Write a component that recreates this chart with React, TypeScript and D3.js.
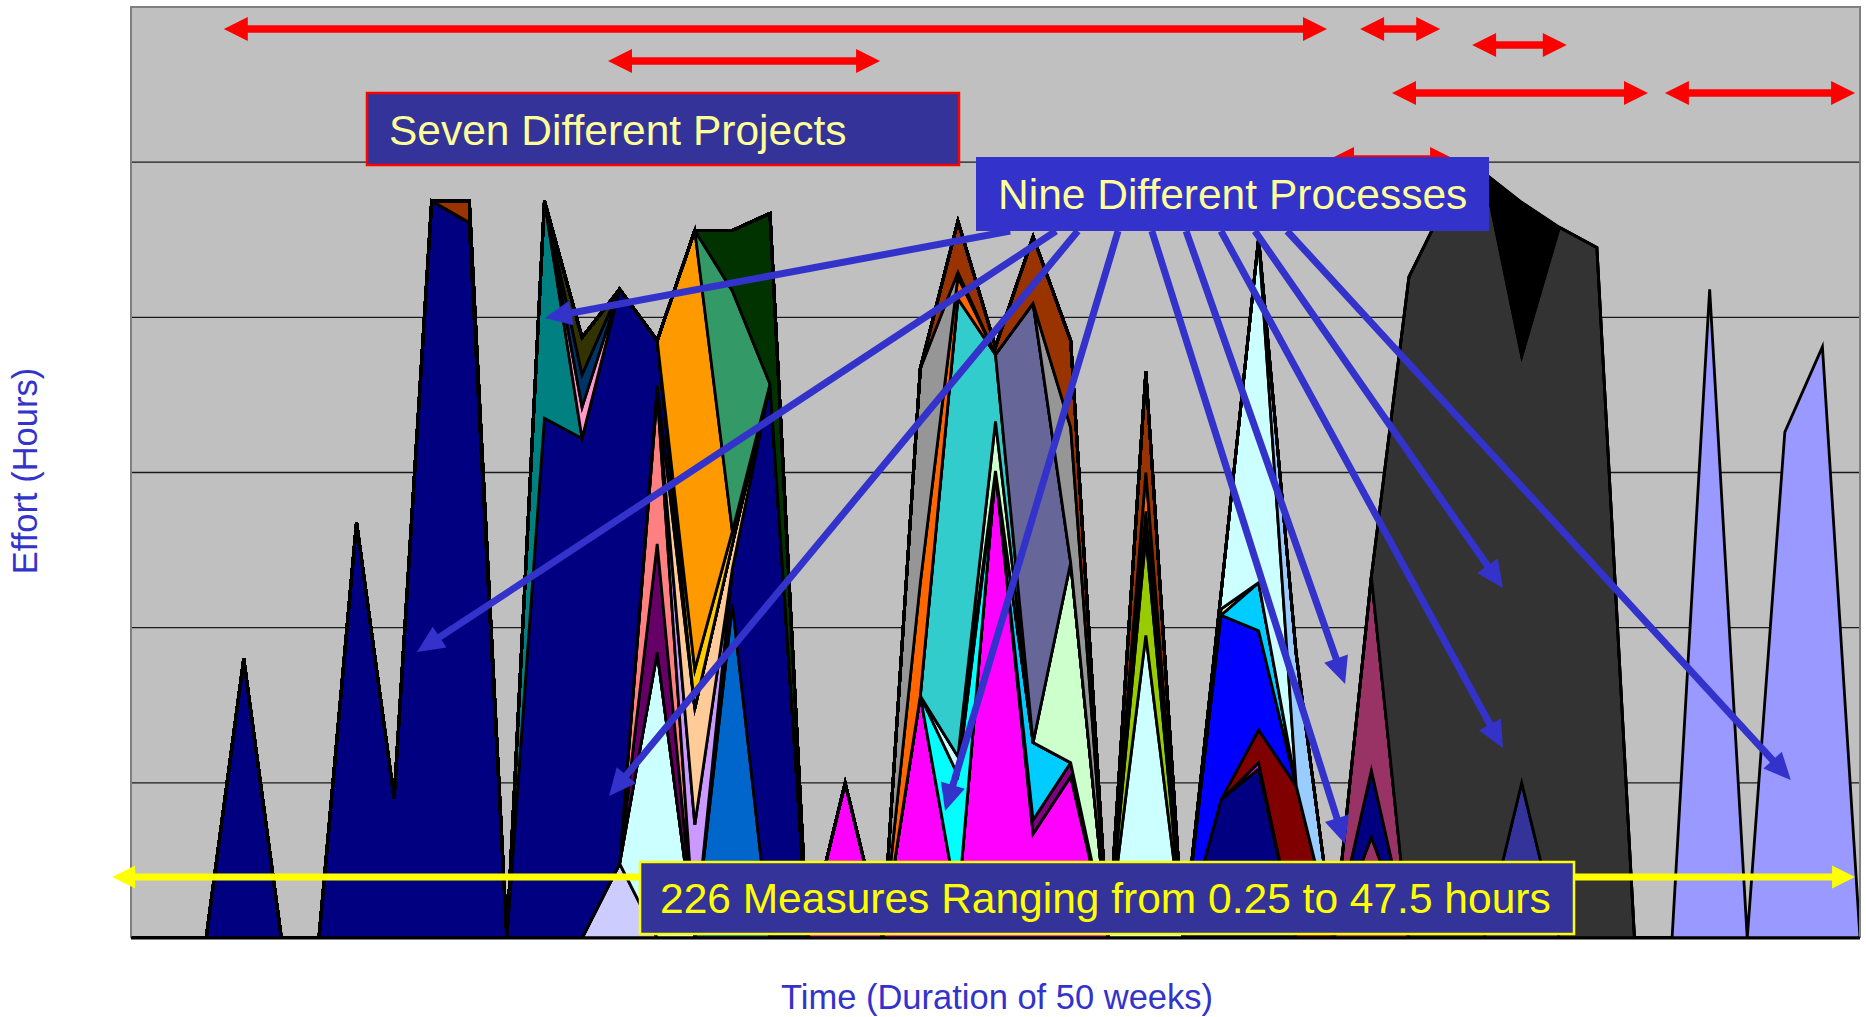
import React from "react";
import * as d3 from "d3";

// ---- Chart frame ----
const WIDTH = 1866;
const HEIGHT = 1017;
const PLOT = { left: 131, right: 1860, top: 7, bottom: 938 };
const WEEK_COUNT = 47;
const HOURS_MAX = 60;
const GRID_HOURS = [10, 20, 30, 40, 50];

// ---- Weekly effort (hours) per project/process series ----
// Each array starts at the week index given in the series table below.

// Project 1
const p1Lavender = [0, 4.8, 0];
const p1LightCyan = [0, 18.4, 0];
const p1Blue = [0, 21.5, 0];
const p1NavyLate = [0, 2.3, 35.7, 0];
const p1Plum = [0, 7.0, 0];
const p1Salmon = [0, 9.7, 0];
const p1Lilac = [0, 7.3, 0];
const p1Peach = [0, 0.5, 7.5, 1.6, 0];
const p1Navy = [0, 18.0, 0, 0, 26.8, 9.0, 47.5, 46.1, 0, 33.5, 32.2, 37.0, 2.9, 0];
const p1Teal = [0, 14.0, 0];
const p1Pink = [0, 2.0, 0];
const p1Ink = [0, 2.1, 0];
const p1Olive = [0, 2.4, 0];
const p1Gold = [0, 2.5, 0.8, 0];
const p1Orange = [0, 28.3, 0];
const p1SeaGreen = [0, 15.5, 0];
const p1Forest = [0, 3.9, 11.0, 0];
const p1Rust = [0, 1.4, 0];

// Project 2
const p2Magenta = [0, 10.0, 0, 15.6, 2.0, 30.1, 6.7, 10.4, 0];
const p2Purple = [0, 0.9, 0.9, 0];
const p2Sky = [0, 5.0, 0];
const p2Cyan = [0, 8.5, 0];
const p2Ice = [0, 1.2, 0];
const p2Mint = [0, 3.2, 0, 12.9, 0];
const p2Turquoise = [0, 29.5, 4.3, 0];
const p2Slate = [0, 28.3, 0];
const p2Orange = [0, 7.3, 1.4, 0];
const p2Gray = [0, 13.8, 0.3, 0, 0, 8.7, 0];
const p2Rust = [0, 3.3, 0.5, 4.3, 5.6, 0];

// Project 3
const p3Ice = [0, 19.5, 0];
const p3Lime = [0, 6.4, 0];
const p3Black = [0, 1.6, 0];
const p3Orange = [0, 2.5, 0];
const p3Rust = [0, 6.5, 0];

// Project 4
const p4Navy = [0, 8.9, 10.9, 0];
const p4Magenta = [0, 0.4, 0];
const p4Maroon = [0, 2.1, 9.8, 0];
const p4Blue = [0, 11.9, 6.4, 0];
const p4Sky = [0, 3.1, 0];
const p4Cream = [0, 0.4, 0];
const p4Ice = [0, 1.0, 22.2, 0];
const p4Powder = [0, 8.5, 0];

// Project 5
const p5WineLow = [0, 6.5, 0];
const p5Navy = [0, 4.3, 0];
const p5WineHigh = [0, 12.5, 0];

// Project 6
const p6Indigo = [0, 10.0, 0];
const p6Charcoal = [0, 42.6, 47.5, 49.3, 27.5, 45.8, 44.5, 0];
const p6Black = [0, 9.9, 0];

// Project 7
const p7Periwinkle = [0, 41.8, 0, 32.6, 38.1, 0];

// Stack order: bottom to top
const SERIES = [
  { key: "p1Lavender", color: "#CCCCFF", start: 12, values: p1Lavender },
  { key: "p1LightCyan", color: "#CCFFFF", start: 13, values: p1LightCyan },
  { key: "p1Blue", color: "#0066CC", start: 15, values: p1Blue },
  { key: "p1NavyLate", color: "#000080", start: 15, values: p1NavyLate },
  { key: "p1Plum", color: "#660066", start: 13, values: p1Plum },
  { key: "p1Salmon", color: "#FF8080", start: 13, values: p1Salmon },
  { key: "p1Lilac", color: "#CC99FF", start: 14, values: p1Lilac },
  { key: "p1Peach", color: "#FFCC99", start: 13, values: p1Peach },
  { key: "p1Navy", color: "#000080", start: 2, values: p1Navy },
  { key: "p1Teal", color: "#008080", start: 10, values: p1Teal },
  { key: "p1Pink", color: "#FF99CC", start: 11, values: p1Pink },
  { key: "p1Ink", color: "#003366", start: 11, values: p1Ink },
  { key: "p1Olive", color: "#333300", start: 11, values: p1Olive },
  { key: "p1Gold", color: "#FFCC00", start: 14, values: p1Gold },
  { key: "p1Orange", color: "#FF9900", start: 14, values: p1Orange },
  { key: "p1SeaGreen", color: "#339966", start: 15, values: p1SeaGreen },
  { key: "p1Forest", color: "#003300", start: 15, values: p1Forest },
  { key: "p1Rust", color: "#993300", start: 8, values: p1Rust },

  { key: "p2Magenta", color: "#FF00FF", start: 18, values: p2Magenta },
  { key: "p2Purple", color: "#800080", start: 23, values: p2Purple },
  { key: "p2Sky", color: "#00CCFF", start: 23, values: p2Sky },
  { key: "p2Cyan", color: "#00FFFF", start: 21, values: p2Cyan },
  { key: "p2Ice", color: "#CCFFFF", start: 21, values: p2Ice },
  { key: "p2Mint", color: "#CCFFCC", start: 22, values: p2Mint },
  { key: "p2Turquoise", color: "#33CCCC", start: 21, values: p2Turquoise },
  { key: "p2Slate", color: "#666699", start: 23, values: p2Slate },
  { key: "p2Orange", color: "#FF6600", start: 20, values: p2Orange },
  { key: "p2Gray", color: "#969696", start: 20, values: p2Gray },
  { key: "p2Rust", color: "#993300", start: 21, values: p2Rust },

  { key: "p3Ice", color: "#CCFFFF", start: 26, values: p3Ice },
  { key: "p3Lime", color: "#99CC00", start: 26, values: p3Lime },
  { key: "p3Black", color: "#000000", start: 26, values: p3Black },
  { key: "p3Orange", color: "#FF6600", start: 26, values: p3Orange },
  { key: "p3Rust", color: "#993300", start: 26, values: p3Rust },

  { key: "p4Navy", color: "#000080", start: 28, values: p4Navy },
  { key: "p4Magenta", color: "#FF00FF", start: 29, values: p4Magenta },
  { key: "p4Maroon", color: "#800000", start: 29, values: p4Maroon },
  { key: "p4Blue", color: "#0000FF", start: 28, values: p4Blue },
  { key: "p4Sky", color: "#00CCFF", start: 29, values: p4Sky },
  { key: "p4Cream", color: "#FFFF99", start: 28, values: p4Cream },
  { key: "p4Ice", color: "#CCFFFF", start: 28, values: p4Ice },
  { key: "p4Powder", color: "#99CCFF", start: 30, values: p4Powder },

  { key: "p5WineLow", color: "#993366", start: 32, values: p5WineLow },
  { key: "p5Navy", color: "#000080", start: 32, values: p5Navy },
  { key: "p5WineHigh", color: "#993366", start: 32, values: p5WineHigh },

  { key: "p6Indigo", color: "#333399", start: 36, values: p6Indigo },
  { key: "p6Charcoal", color: "#333333", start: 33, values: p6Charcoal },
  { key: "p6Black", color: "#000000", start: 36, values: p6Black },

  { key: "p7Periwinkle", color: "#9999FF", start: 41, values: p7Periwinkle },
];

// ---- Annotations, in chart units (week index, hours) ----
// Project spans: [fromWeek, toWeek, hoursLevel]
const PROJECT_SPANS = [
  [2.47, 31.82, 58.58],
  [12.69, 19.93, 56.52],
  [32.7, 34.83, 58.58],
  [35.68, 38.2, 57.55],
  [33.55, 40.36, 54.46],
  [40.81, 45.87, 54.46],
];
const HIDDEN_SPAN = [31.9, 35.2, 50.2];
// Range of all measures: [fromWeek, toWeek, hoursLevel]
const MEASURE_SPAN = [-0.5, 45.87, 3.93];
// Process pointers: [fromWeek, fromHours, toWeek, toHours]
const PROCESS_POINTERS = [
  [23.39, 45.56, 11.01, 39.96],
  [24.61, 45.56, 7.61, 18.43],
  [25.19, 45.56, 12.72, 9.15],
  [26.26, 45.56, 21.66, 8.18],
  [28.07, 45.56, 32.3, 16.37],
  [27.16, 45.56, 32.3, 6.06],
  [29.9, 45.56, 36.5, 22.56],
  [29.0, 45.56, 36.5, 12.24],
  [30.76, 45.56, 44.16, 10.18],
];

const FONT = "'Liberation Sans', Arial, Helvetica, sans-serif";

function arrowPolygon(
  x1: number, y1: number, x2: number, y2: number,
  w: number, L: number, h: number, double: boolean
): string {
  const dx = x2 - x1, dy = y2 - y1;
  const len = Math.hypot(dx, dy);
  const ux = dx / len, uy = dy / len;
  const nx = -uy, ny = ux;
  const p = (x: number, y: number) => `${x.toFixed(1)},${y.toFixed(1)}`;
  const bx = x2 - ux * L, by = y2 - uy * L;
  const pts: string[] = [];
  if (double) {
    const ax = x1 + ux * L, ay = y1 + uy * L;
    pts.push(p(x1, y1));
    pts.push(p(ax + nx * h, ay + ny * h));
    pts.push(p(ax + nx * w / 2, ay + ny * w / 2));
    pts.push(p(bx + nx * w / 2, by + ny * w / 2));
    pts.push(p(bx + nx * h, by + ny * h));
    pts.push(p(x2, y2));
    pts.push(p(bx - nx * h, by - ny * h));
    pts.push(p(bx - nx * w / 2, by - ny * w / 2));
    pts.push(p(ax - nx * w / 2, ay - ny * w / 2));
    pts.push(p(ax - nx * h, ay - ny * h));
  } else {
    pts.push(p(x1 + nx * w / 2, y1 + ny * w / 2));
    pts.push(p(bx + nx * w / 2, by + ny * w / 2));
    pts.push(p(bx + nx * h, by + ny * h));
    pts.push(p(x2, y2));
    pts.push(p(bx - nx * h, by - ny * h));
    pts.push(p(bx - nx * w / 2, by - ny * w / 2));
    pts.push(p(x1 - nx * w / 2, y1 - ny * w / 2));
  }
  return pts.join(" ");
}

export default function App() {
  const x = d3.scaleLinear().domain([0, WEEK_COUNT - 1]).range([PLOT.left, PLOT.right]);
  const y = d3.scaleLinear().domain([0, HOURS_MAX]).range([PLOT.bottom, PLOT.top]);

  const rows = d3.range(WEEK_COUNT).map((k) => {
    const row: Record<string, number> = {};
    for (const s of SERIES) {
      const i = k - s.start;
      row[s.key] = i >= 0 && i < s.values.length ? s.values[i] : 0;
    }
    return row;
  });

  const stacked = d3
    .stack<Record<string, number>>()
    .keys(SERIES.map((s) => s.key))
    .order(d3.stackOrderNone)
    .offset(d3.stackOffsetNone)(rows);

  const area = d3
    .area<d3.SeriesPoint<Record<string, number>>>()
    .x((_, i) => x(i))
    .y0((d) => y(d[0]))
    .y1((d) => y(d[1]));

  const redArrow = (s: number[], i: number) => (
    <polygon
      key={`span-${i}`}
      points={arrowPolygon(x(s[0]), y(s[2]), x(s[1]), y(s[2]), 7.5, 24, 12, true)}
      fill="#FF0000"
    />
  );

  return (
    <svg
      width={WIDTH}
      height={HEIGHT}
      style={{ position: "absolute", left: 0, top: 0, display: "block", background: "#FFFFFF" }}
    >
      <defs>
        <clipPath id="plot-clip">
          <rect
            x={PLOT.left}
            y={PLOT.top}
            width={PLOT.right - PLOT.left}
            height={PLOT.bottom - PLOT.top}
          />
        </clipPath>
      </defs>

      {/* plot background */}
      <rect
        x={PLOT.left}
        y={PLOT.top}
        width={PLOT.right - PLOT.left}
        height={PLOT.bottom - PLOT.top}
        fill="#C0C0C0"
      />
      {/* horizontal gridlines */}
      {GRID_HOURS.map((h) => (
        <line
          key={h}
          x1={PLOT.left}
          x2={PLOT.right}
          y1={y(h)}
          y2={y(h)}
          stroke="#1a1a1a"
          strokeWidth={1.3}
        />
      ))}

      {/* stacked effort areas */}
      <g clipPath="url(#plot-clip)">
        {stacked.map((layer, i) => (
          <path
            key={layer.key}
            d={area(layer) || ""}
            fill={SERIES[i].color}
            stroke="#000000"
            strokeWidth={2.8}
            strokeLinejoin="miter"
            strokeMiterlimit={6}
          />
        ))}
      </g>

      {/* frame */}
      <polyline
        points={`${PLOT.left},${PLOT.bottom} ${PLOT.left},${PLOT.top} ${PLOT.right},${PLOT.top} ${PLOT.right},${PLOT.bottom}`}
        fill="none"
        stroke="#808080"
        strokeWidth={2}
      />
      <line x1={PLOT.left} x2={PLOT.right} y1={PLOT.bottom} y2={PLOT.bottom} stroke="#000" strokeWidth={3} />

      {/* project spans */}
      {PROJECT_SPANS.map(redArrow)}
      {redArrow(HIDDEN_SPAN, 99)}

      {/* Seven Different Projects */}
      <rect x={367} y={93} width={592} height={72} fill="#333399" stroke="#FF0000" strokeWidth={2.5} />
      <text x={389} y={145} fill="#FFFF99" fontFamily={FONT} fontSize={42.5}>
        Seven Different Projects
      </text>

      {/* measure range */}
      <polygon
        points={arrowPolygon(
          x(MEASURE_SPAN[0]), y(MEASURE_SPAN[2]),
          x(MEASURE_SPAN[1]), y(MEASURE_SPAN[2]),
          7, 23, 11.5, true
        )}
        fill="#FFFF00"
      />
      <rect x={640} y={862} width={934} height={72} fill="#333399" stroke="#FFFF00" strokeWidth={2.5} />
      <text x={660} y={913} fill="#FFFF00" fontFamily={FONT} fontSize={42.5}>
        226 Measures Ranging from 0.25 to 47.5 hours
      </text>

      {/* process pointers */}
      {PROCESS_POINTERS.map((p, i) => (
        <polygon
          key={`ptr-${i}`}
          points={arrowPolygon(x(p[0]), y(p[1]), x(p[2]), y(p[3]), 7, 27, 12.5, false)}
          fill="#3333CC"
        />
      ))}

      {/* Nine Different Processes */}
      <rect x={976} y={157} width={513} height={74} fill="#3333CC" />
      <text x={998} y={209} fill="#FFFF99" fontFamily={FONT} fontSize={42.5}>
        Nine Different Processes
      </text>

      {/* axis titles */}
      <text
        x={997}
        y={1009}
        textAnchor="middle"
        fill="#3333CC"
        fontFamily={FONT}
        fontSize={34.5}
      >
        Time (Duration of 50 weeks)
      </text>
      <text
        transform="translate(37,471) rotate(-90)"
        textAnchor="middle"
        fill="#3333CC"
        fontFamily={FONT}
        fontSize={34.5}
      >
        Effort (Hours)
      </text>
    </svg>
  );
}
